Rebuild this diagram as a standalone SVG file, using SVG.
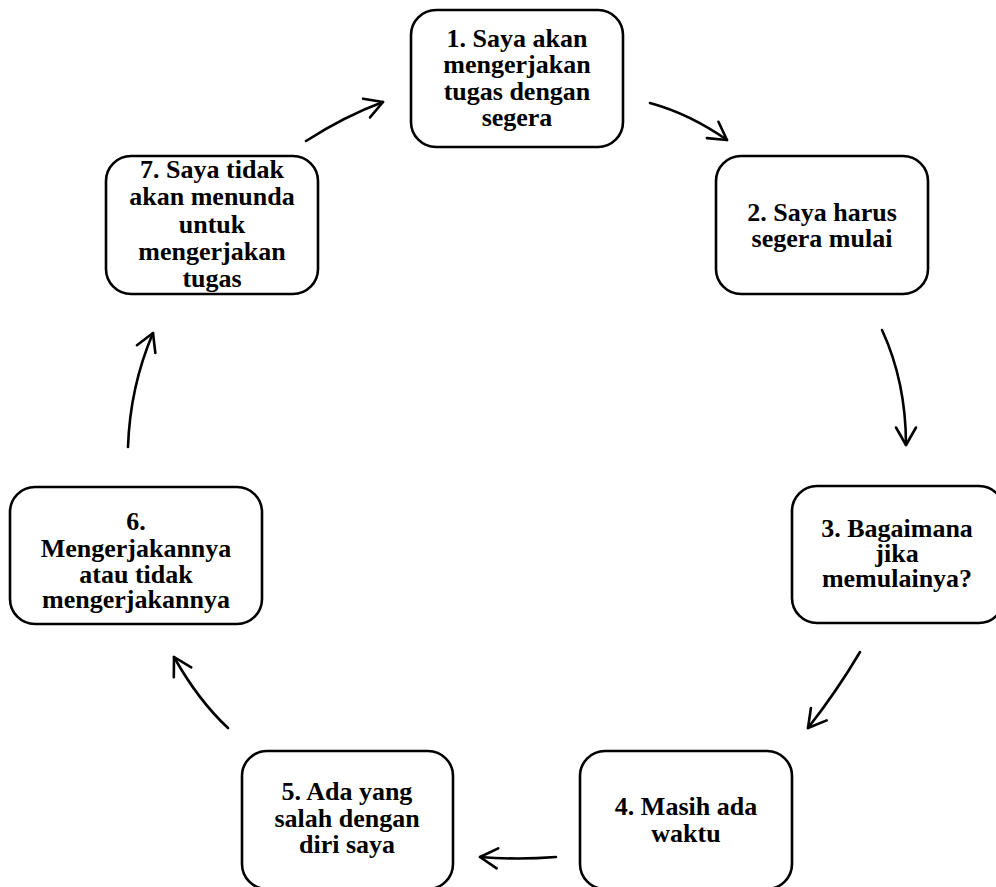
<svg xmlns="http://www.w3.org/2000/svg" width="996" height="887" viewBox="0 0 996 887">
<style>
.box{fill:#fff;stroke:#000;stroke-width:2.6}
.t{font-family:"Liberation Serif","Times New Roman",serif;font-weight:bold;font-size:26px;fill:#000;text-anchor:middle}
.c{fill:none;stroke:#000;stroke-width:2.6;stroke-linecap:round}
</style>
<defs>
<marker id="ah" markerUnits="userSpaceOnUse" orient="auto" overflow="visible" markerWidth="1" markerHeight="1" refX="0" refY="0">
<path d="M-17.5,-10 L0,0 L-17.5,10" fill="none" stroke="#000" stroke-width="2.6" stroke-linecap="round" stroke-linejoin="round"/>
</marker>
</defs>
<rect width="996" height="887" fill="#fff"/>
<g id="connectors">
<path class="c" d="M306,141 Q345,116 383,102" marker-end="url(#ah)"/>
<path class="c" d="M650,103 Q690,114 727,140" marker-end="url(#ah)"/>
<path class="c" d="M882,330 Q906,382 906,445" marker-end="url(#ah)"/>
<path class="c" d="M860,652 Q837,691 808,728" marker-end="url(#ah)"/>
<path class="c" d="M556,857 Q518,860 480,857" marker-end="url(#ah)"/>
<path class="c" d="M228,728 Q198,700 174,657" marker-end="url(#ah)"/>
<path class="c" d="M128,447 Q130,387 153,333" marker-end="url(#ah)"/>
</g>
<g id="n1">
<rect class="box" x="411" y="10" width="212" height="137" rx="25"/>
<text class="t"><tspan x="517" y="47">1. Saya akan</tspan><tspan x="517" y="73">mengerjakan</tspan><tspan x="517" y="100">tugas dengan</tspan><tspan x="517" y="126">segera</tspan></text>
</g>
<g id="n2">
<rect class="box" x="716" y="156" width="212" height="138" rx="25"/>
<text class="t"><tspan x="822" y="221">2. Saya harus</tspan><tspan x="822" y="247">segera mulai</tspan></text>
</g>
<g id="n3">
<rect class="box" x="792" y="486" width="212" height="137" rx="25"/>
<text class="t"><tspan x="897" y="537">3. Bagaimana</tspan><tspan x="897" y="562">jika</tspan><tspan x="897" y="587">memulainya?</tspan></text>
</g>
<g id="n4">
<rect class="box" x="580" y="751" width="212" height="138" rx="25"/>
<text class="t"><tspan x="686" y="815">4. Masih ada</tspan><tspan x="686" y="842">waktu</tspan></text>
</g>
<g id="n5">
<rect class="box" x="242" y="751" width="211" height="138" rx="25"/>
<text class="t"><tspan x="347" y="800">5. Ada yang</tspan><tspan x="347" y="827">salah dengan</tspan><tspan x="347" y="853">diri saya</tspan></text>
</g>
<g id="n6">
<rect class="box" x="10" y="487" width="252" height="137" rx="25"/>
<text class="t"><tspan x="136" y="530">6.</tspan><tspan x="136" y="557">Mengerjakannya</tspan><tspan x="136" y="583">atau tidak</tspan><tspan x="136" y="608">mengerjakannya</tspan></text>
</g>
<g id="n7">
<rect class="box" x="106" y="156" width="212" height="138" rx="25"/>
<text class="t"><tspan x="212" y="178">7. Saya tidak</tspan><tspan x="212" y="205">akan menunda</tspan><tspan x="212" y="233">untuk</tspan><tspan x="212" y="260">mengerjakan</tspan><tspan x="212" y="287">tugas</tspan></text>
</g>
</svg>
